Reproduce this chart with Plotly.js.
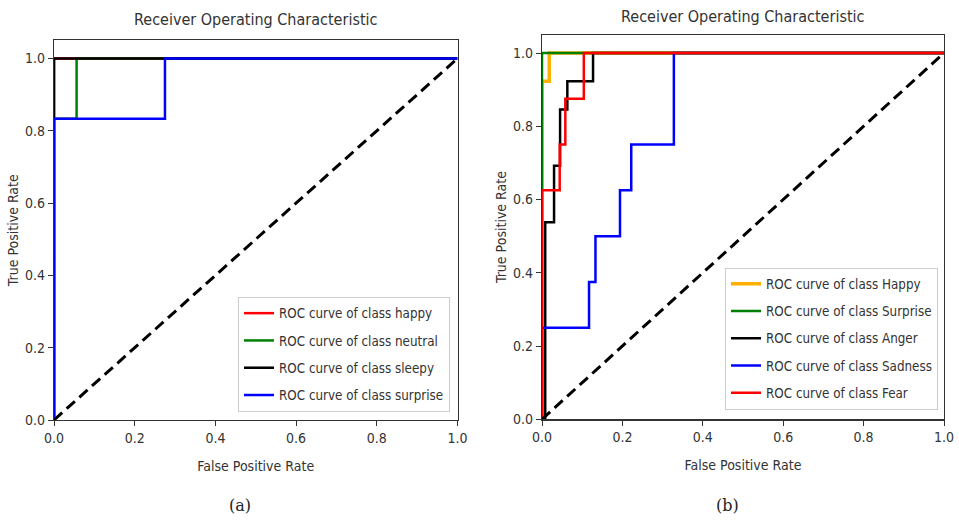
<!DOCTYPE html>
<html>
<head>
<meta charset="utf-8">
<script src="https://cdn.plot.ly/plotly-3.0.1.min.js"></script>
<style>html,body{margin:0;padding:0;background:#fff;}#chart{width:959px;height:520px;}</style>
</head>
<body>
<div id="chart"></div>
<script>
// ---- Data: panel (a) ----
const aNames = ['ROC curve of class happy','ROC curve of class neutral','ROC curve of class sleepy','ROC curve of class surprise'];
const aHappyX = [0, 0, 1];
const aHappyY = [0, 1, 1];
const aNeutralX = [0, 0, 0.056, 0.056, 1];
const aNeutralY = [0, 0.833, 0.833, 1, 1];
const aSleepyX = [0, 0, 1];
const aSleepyY = [0, 1, 1];
const aSurpriseX = [0, 0, 0.275, 0.275, 1];
const aSurpriseY = [0, 0.833, 0.833, 1, 1];

// ---- Data: panel (b) ----
const bNames = ['ROC curve of class Happy','ROC curve of class Surprise','ROC curve of class Anger','ROC curve of class Sadness','ROC curve of class Fear'];
const bHappyX = [0, 0, 0.018, 0.018, 1];
const bHappyY = [0, 0.923, 0.923, 1, 1];
const bSurpriseX = [0, 0, 1];
const bSurpriseY = [0, 1, 1];
const bAngerX = [0, 0.008, 0.008, 0.03, 0.03, 0.045, 0.045, 0.063, 0.063, 0.127, 0.127, 1];
const bAngerY = [0, 0, 0.538, 0.538, 0.692, 0.692, 0.846, 0.846, 0.923, 0.923, 1, 1];
const bSadnessX = [0, 0, 0.117, 0.117, 0.133, 0.133, 0.194, 0.194, 0.222, 0.222, 0.328, 0.328, 1];
const bSadnessY = [0, 0.25, 0.25, 0.375, 0.375, 0.5, 0.5, 0.625, 0.625, 0.75, 0.75, 1, 1];
const bFearX = [0, 0, 0.044, 0.044, 0.058, 0.058, 0.104, 0.104, 1];
const bFearY = [0, 0.625, 0.625, 0.75, 0.75, 0.875, 0.875, 1, 1];

const diagX = [0, 1];
const diagY = [0, 1];

const tickVals = [0, 0.2, 0.4, 0.6, 0.8, 1.0];
const tickText = ['0.0', '0.2', '0.4', '0.6', '0.8', '1.0'];

const FONT = 'DejaVu Sans Condensed, Liberation Sans Narrow, DejaVu Sans, sans-serif';
const LW = 2.5;

let gid = 0;
function tr(x, y, name, color, xa, ya, leg, w) {
  gid += 1;
  return {x: x, y: y, name: name, mode: 'lines', type: 'scatter', legendgroup: 'g' + gid,
    line: {color: color, width: w || LW}, xaxis: xa, yaxis: ya, legend: leg, hoverinfo: 'skip'};
}
function diag(xa, ya, leg) {
  return {x: diagX, y: diagY, mode: 'lines', type: 'scatter', showlegend: false,
    line: {color: '#000', width: 3, dash: '11px,6px'}, xaxis: xa, yaxis: ya, legend: leg, hoverinfo: 'skip'};
}

const data = [
  tr(aHappyX, aHappyY, aNames[0], '#ff0000', 'x', 'y', 'legend'),
  tr(aNeutralX, aNeutralY, aNames[1], '#008000', 'x', 'y', 'legend'),
  tr(aSleepyX, aSleepyY, aNames[2], '#000000', 'x', 'y', 'legend'),
  tr(aSurpriseX, aSurpriseY, aNames[3], '#0000ff', 'x', 'y', 'legend'),
  diag('x', 'y', 'legend'),
  tr(bHappyX, bHappyY, bNames[0], '#ffb000', 'x2', 'y2', 'legend2', 3.5),
  tr(bSurpriseX, bSurpriseY, bNames[1], '#008000', 'x2', 'y2', 'legend2'),
  tr(bAngerX, bAngerY, bNames[2], '#000000', 'x2', 'y2', 'legend2'),
  tr(bSadnessX, bSadnessY, bNames[3], '#0000ff', 'x2', 'y2', 'legend2'),
  tr(bFearX, bFearY, bNames[4], '#ff0000', 'x2', 'y2', 'legend2'),
  diag('x2', 'y2', 'legend2')
];

function axis(domain, anchor, title, isY) {
  return {
    domain: domain, anchor: anchor, range: isY ? [0, 1.05] : [0, 1],
    tickmode: 'array', tickvals: tickVals, ticktext: tickText,
    ticks: 'outside', ticklen: 5, tickwidth: 1, tickcolor: '#333',
    showline: true, mirror: true, linecolor: '#333', linewidth: 1.2,
    showgrid: false, zeroline: false, fixedrange: true,
    tickfont: {family: FONT, size: 14, color: '#333'},
    title: {text: title, font: {family: FONT, size: 14, color: '#333'}, standoff: isY ? 3 : 16}
  };
}

const W = 959, H = 520;
const legendBase = {
  font: {family: FONT, size: 13.3, color: '#333'},
  bgcolor: 'rgba(255,255,255,0.9)', bordercolor: '#cccccc', borderwidth: 1,
  xanchor: 'right', yanchor: 'bottom', xref: 'paper', yref: 'paper',
  itemwidth: 30, tracegroupgap: 7, traceorder: 'grouped'
};

const layout = {
  width: W, height: H, margin: {l: 0, r: 0, t: 0, b: 0},
  paper_bgcolor: '#fff', plot_bgcolor: '#fff', showlegend: true,
  xaxis: axis([54 / W, 457.5 / W], 'y', 'False Positive Rate', false),
  yaxis: axis([(H - 420) / H, (H - 40.4) / H], 'x', 'True Positive Rate', true),
  xaxis2: axis([542 / W, 944 / W], 'y2', 'False Positive Rate', false),
  yaxis2: axis([(H - 419.3) / H, (H - 34.7) / H], 'x2', 'True Positive Rate', true),
  legend: Object.assign({}, legendBase, {x: 450 / W, y: (H - 412) / H}),
  legend2: Object.assign({}, legendBase, {x: 938 / W, y: (H - 409.5) / H}),
  annotations: [
    {text: 'Receiver Operating Characteristic', xref: 'paper', yref: 'paper', x: 255.5 / W, y: (H - 20) / H,
     xanchor: 'center', yanchor: 'middle', showarrow: false, font: {family: FONT, size: 16, color: '#333'}},
    {text: 'Receiver Operating Characteristic', xref: 'paper', yref: 'paper', x: 743 / W, y: (H - 17) / H,
     xanchor: 'center', yanchor: 'middle', showarrow: false, font: {family: FONT, size: 16, color: '#333'}},
    {text: '(a)', xref: 'paper', yref: 'paper', x: 240 / W, y: (H - 505) / H,
     xanchor: 'center', yanchor: 'middle', showarrow: false, font: {family: 'DejaVu Serif, Liberation Serif, serif', size: 16, color: '#222'}},
    {text: '(b)', xref: 'paper', yref: 'paper', x: 727 / W, y: (H - 505) / H,
     xanchor: 'center', yanchor: 'middle', showarrow: false, font: {family: 'DejaVu Serif, Liberation Serif, serif', size: 16, color: '#222'}}
  ]
};

Plotly.newPlot('chart', data, layout, {displayModeBar: false, staticPlot: true});
</script>
</body>
</html>
